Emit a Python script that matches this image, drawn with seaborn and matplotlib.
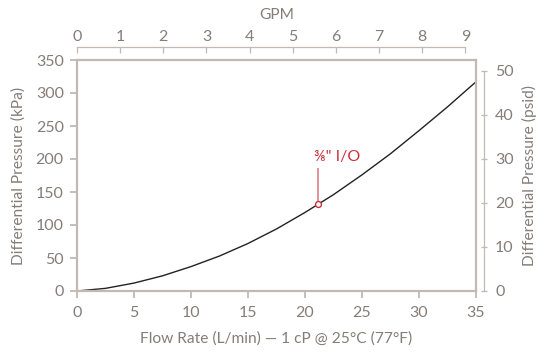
import numpy as np
import pandas as pd
import matplotlib
matplotlib.use("Agg")
import matplotlib.pyplot as plt
import seaborn as sns

# curve: flow (L/min) vs differential pressure (kPa)
flow_lpm = [0, 2.5, 5, 7.5, 10, 12.5, 15, 17.5, 20, 22.5, 25, 27.5, 30, 32.5, 35]
dp_kpa = [0, 4, 12, 23, 37, 53, 72, 94, 119, 146, 176, 208, 243, 279, 317]

marker_flow = [21.1]
marker_kpa = [132]
marker_label = "\u215c\" I/O"

x_ticks = [0, 5, 10, 15, 20, 25, 30, 35]
y_ticks = [0, 50, 100, 150, 200, 250, 300, 350]
gpm_ticks = [0, 1, 2, 3, 4, 5, 6, 7, 8, 9]
psi_ticks = [0, 10, 20, 30, 40, 50]

sns.set_style("white")
plt.rcParams['font.family'] = ['Lato', 'DejaVu Sans']

spine_c = "#c2b9b2"
text_c = "#857d78"
red = "#c8323c"

df = pd.DataFrame({"flow": flow_lpm, "dp": dp_kpa})

fig = plt.figure(figsize=(5.38, 3.54), dpi=100)
ax = fig.add_axes([77 / 538, 63 / 354, 399 / 538, 231 / 354])

sns.lineplot(data=df, x="flow", y="dp", ax=ax, color="#222222", lw=1.0)
ax.vlines(marker_flow[0], marker_kpa[0] + 3, 187, color="#d9757b", lw=1.1)
sns.scatterplot(x=marker_flow, y=marker_kpa, ax=ax, s=18, facecolor="white",
                edgecolor=red, linewidth=1, zorder=5)
ax.text(marker_flow[0] - 0.3, 203, marker_label, color=red, fontsize=11.5,
        ha="left", va="center")

ax.set_xlim(0, 35)
ax.set_ylim(0, 350)
ax.set_xticks(x_ticks)
ax.set_yticks(y_ticks)
for s in ax.spines.values():
    s.set_color(spine_c)
    s.set_linewidth(1.6)
ax.tick_params(colors=spine_c, labelcolor=text_c, labelsize=11.5, length=5, width=1.3,
               direction="out", bottom=True, left=True, pad=4.5)
ax.tick_params(axis="x", pad=5.5)
ax.set_xlabel("Flow Rate (L/min) \u2014 1 cP @ 25\u00b0C (77\u00b0F)", color=text_c,
              fontsize=11.2, labelpad=8.5)
ax.set_ylabel("Differential Pressure (kPa)", color=text_c, fontsize=11.2, labelpad=7)

# top GPM axis
axt = ax.twiny()
axt.set_xlim(0, 35 / 3.785)
axt.set_xticks(gpm_ticks)
for k, s in axt.spines.items():
    s.set_visible(k == "top")
axt.spines["top"].set_position(("outward", 9.4))
axt.spines["top"].set_bounds(0, 9)
axt.spines["top"].set_color(spine_c)
axt.spines["top"].set_linewidth(0.9)
axt.tick_params(axis="x", colors=spine_c, labelcolor=text_c, labelsize=11.5,
                length=4.5, width=0.9, direction="in", pad=2)
axt.set_xlabel("GPM", color=text_c, fontsize=11.2, labelpad=8)

# right psid axis
axr = ax.twinx()
axr.set_ylim(0, 52.5)
axr.set_yticks(psi_ticks)
for k, s in axr.spines.items():
    s.set_visible(k == "right")
axr.spines["right"].set_position(("outward", 5.5))
axr.spines["right"].set_bounds(0, 50)
axr.spines["right"].set_color(spine_c)
axr.spines["right"].set_linewidth(0.9)
axr.tick_params(axis="y", colors=spine_c, labelcolor=text_c, labelsize=11.5,
                length=4.5, width=0.9, direction="inout", pad=6)
axr.set_ylabel("Differential Pressure (psid)", color=text_c, fontsize=11.2, labelpad=6)

fig.savefig("out.png", dpi=100)
